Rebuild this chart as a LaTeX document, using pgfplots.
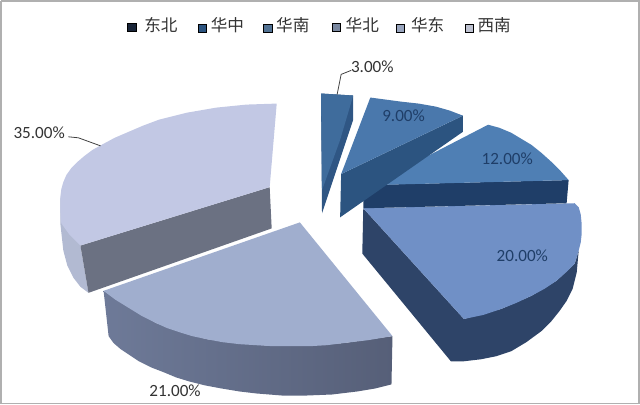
\documentclass[border=0pt]{standalone}
\usepackage{fontspec}
\setmainfont{Carlito}
\newfontfamily\cjk{Noto Sans CJK SC}
\usepackage{pgfplots}
\pgfplotsset{compat=1.18}
\definecolor{sA}{HTML}{3F6C9C}\definecolor{sAd}{HTML}{2F5684}
\definecolor{sB}{HTML}{4A78AC}\definecolor{sBd}{HTML}{2C5480}
\definecolor{sC}{HTML}{4F7FB4}\definecolor{sCd}{HTML}{1F3E68}
\definecolor{sD}{HTML}{7090C6}\definecolor{sDd}{HTML}{2E4468}
\definecolor{sE}{HTML}{A0AECE}\definecolor{sEd}{HTML}{6E7A98}\definecolor{sEe}{HTML}{565F78}
\definecolor{sF}{HTML}{C2C8E4}\definecolor{sFd}{HTML}{6B7182}\definecolor{sFe}{HTML}{B2BAD2}
\definecolor{txt}{HTML}{333333}
\definecolor{frm}{HTML}{B0B0B0}
\begin{document}
\begin{tikzpicture}
\begin{axis}[
    scale only axis,
    width=640pt,
    height=404pt,
    xmin=0, xmax=640,
    ymin=0, ymax=404,
    y dir=reverse,
    hide axis,
    every axis plot/.append style={draw=none},
]
% frame
\addplot[draw=frm, line width=1.8pt] coordinates {(3,2) (637,2) (637,402) (3,402) (3,2)};

% 35% slice
\addplot[fill=sFe] coordinates {(62,197) (62,223) (65,250) (69,265) (75,277) (82,286) (90,292) (82,245)} --cycle;
\addplot[fill=sFd] coordinates {(82,245) (90,292) (272,228) (270,187)} --cycle;
\addplot[fill=sF] coordinates {(277,104) (247,105) (217,108) (188,113) (160,120) (144,126) (130,132) (116,138) (103,145) (94,150) (86,156) (79,162) (73,168) (68,175) (65,182) (63,189) (62,197) (62,210) (63,223) (71,234) (82,245) (270,187)} --cycle;

% 21% slice
\addplot[left color=sEd, right color=sEe] coordinates {(105,290) (110,335) (115,342) (122,348) (131,354) (140,360) (152,366) (165,371) (177,376) (190,380) (206,384) (222,387) (240,390) (257,392) (282,394) (307,394) (332,393) (357,390) (375,387) (391,383) (392,335) (343,342) (273,345) (207,338) (157,322)} --cycle;
\addplot[fill=sE] coordinates {(300,222) (105,290) (117,299) (130,307) (143,315) (157,322) (168,327) (180,331) (193,335) (207,338) (223,341) (240,343) (256,344) (273,345) (292,345) (310,345) (327,344) (343,342) (368,339) (392,335)} --cycle;

% 20% slice
\addplot[fill=sDd] coordinates {(363,208) (362,253) (450,360) (463,360) (480,358) (495,355) (510,350) (525,341) (540,330) (550,320) (558,310) (565,300) (571,288) (575,272) (577,250) (573,263) (555,280) (530,295) (500,308) (463,318)} --cycle;
\addplot[fill=sD] coordinates {(363,208) (573,203) (577,207) (579,214) (580,224) (580,233) (579,242) (577,250) (573,263) (565,271) (555,280) (543,288) (530,295) (515,302) (500,308) (482,314) (463,318)} --cycle;

% 12% slice
\addplot[fill=sCd] coordinates {(363,185) (567,180) (565,203) (363,208)} --cycle;
\addplot[fill=sC] coordinates {(371,185) (487,125) (498,128) (510,133) (520,139) (530,145) (540,153) (550,162) (559,171) (567,180)} --cycle;

% 9% slice
\addplot[fill=sBd] coordinates {(341,174) (462,116) (462,132) (340,217)} --cycle;
\addplot[fill=sB] coordinates {(341,174) (370,98) (385,100) (400,102) (418,104) (435,107) (449,111) (462,116)} --cycle;

% 3% slice
\addplot[fill=sAd] coordinates {(321,94) (353,96) (353,120) (322,213)} --cycle;
\addplot[fill=sA] coordinates {(321,94) (353,96) (340,140) (322,190)} --cycle;

% leader lines
\addplot[draw=black!75, line width=0.8pt] coordinates {(337,95) (341,75) (351,71)};
\addplot[draw=black!75, line width=0.8pt] coordinates {(70,137) (80,138) (102,146)};

% legend marks
\addplot[only marks, mark=square*, mark size=4.1pt, mark options={draw=none, fill=black!45!sDd}] coordinates {(133,28)};
\addplot[only marks, mark=square*, mark size=4.1pt, mark options={draw=none, fill=sBd}] coordinates {(203,29)};
\addplot[only marks, mark=square*, mark size=4.1pt, mark options={draw=none, fill=sA!70!gray}] coordinates {(268,29)};
\addplot[only marks, mark=square*, mark size=4.1pt, mark options={draw=none, fill=gray!55!sD}] coordinates {(336,28)};
\addplot[only marks, mark=square*, mark size=4.1pt, mark options={draw=none, fill=sE!80!gray}] coordinates {(400,29)};
\addplot[only marks, mark=square*, mark size=4.1pt, mark options={draw=none, fill=sF!70!gray!80!white}] coordinates {(468,29)};

\begin{scope}[every node/.style={font=\cjk\fontsize{16.5}{16.5}\selectfont, text=txt}]
\node at (axis cs:162,26) {东北};
\node at (axis cs:228,26) {华中};
\node at (axis cs:293,26) {华南};
\node at (axis cs:362,26) {华北};
\node at (axis cs:427,26) {华东};
\node at (axis cs:493,26) {西南};
\end{scope}

\begin{scope}[every node/.style={font=\fontsize{17}{17}\selectfont}]
\node[text=txt] at (axis cs:372,67) {3.00\%};
\node[text=sCd] at (axis cs:403,116) {9.00\%};
\node[text=sCd] at (axis cs:506,159) {12.00\%};
\node[text=sCd] at (axis cs:521,255) {20.00\%};
\node[text=txt] at (axis cs:176,389) {21.00\%};
\node[text=txt] at (axis cs:41,133) {35.00\%};
\end{scope}
\end{axis}
\end{tikzpicture}
\end{document}
